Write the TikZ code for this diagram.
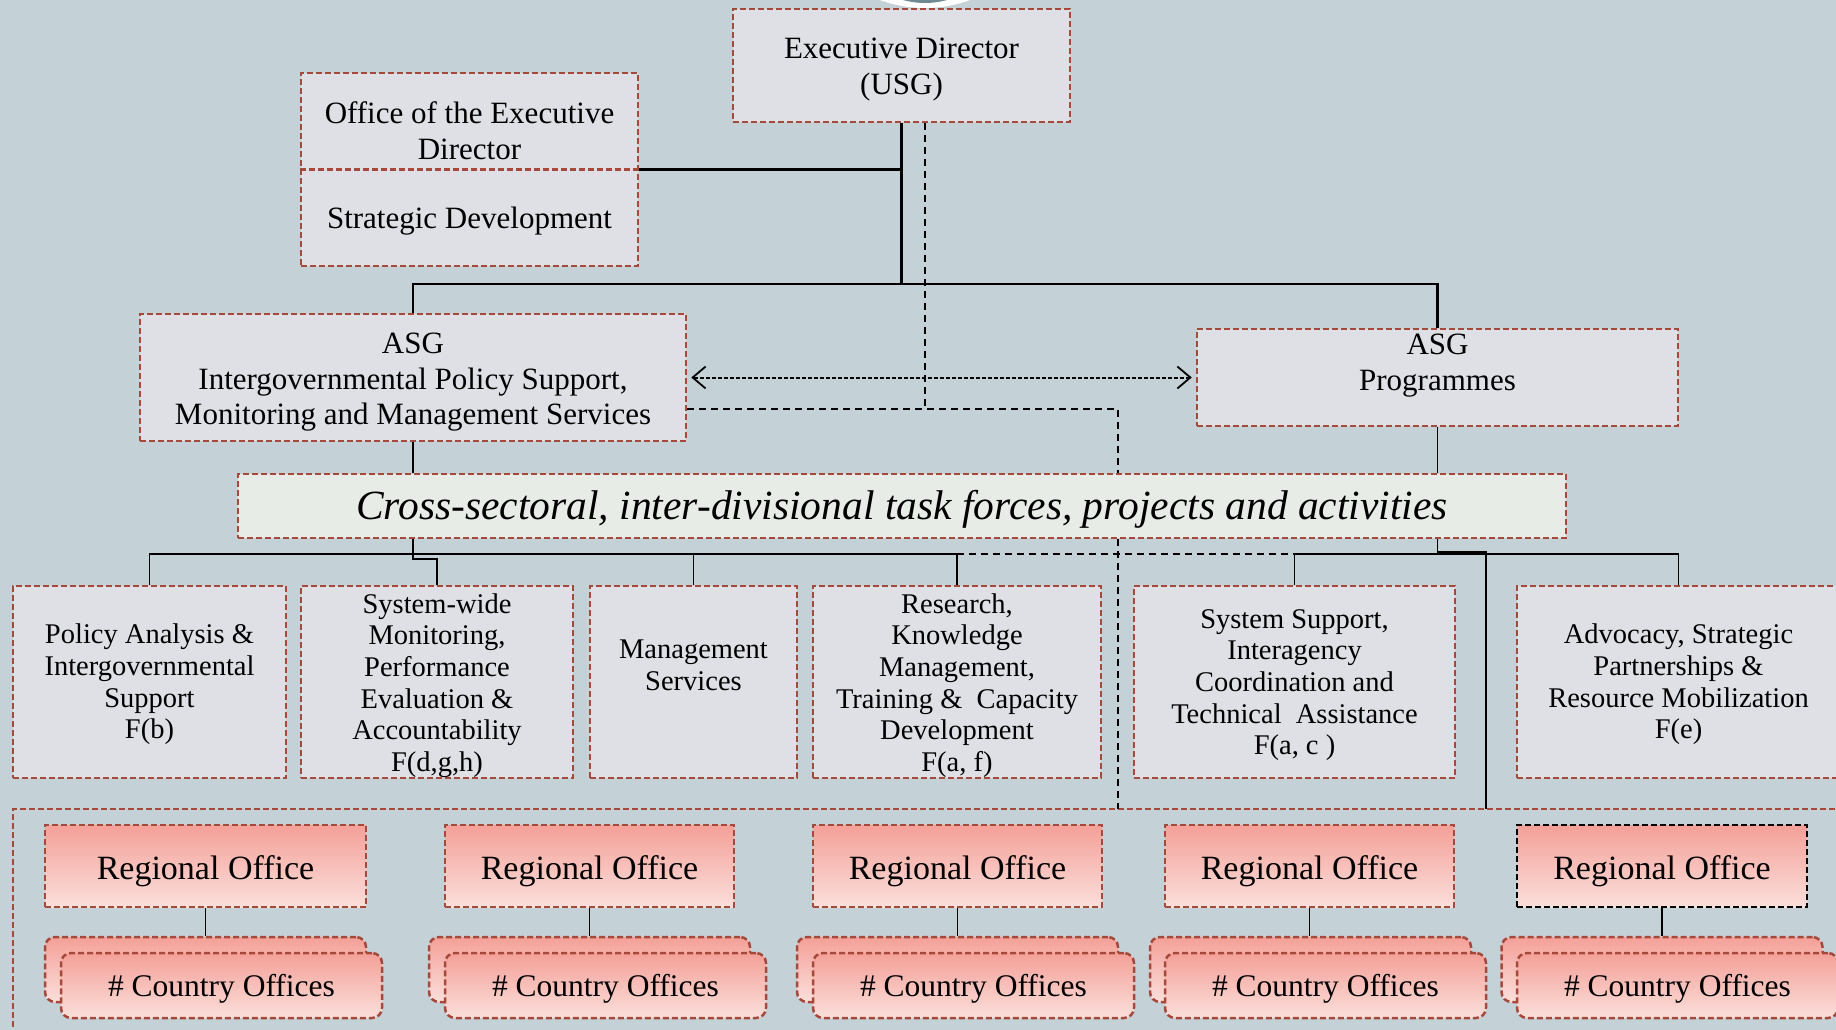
\documentclass[tikz,border=0pt]{standalone}
\usepackage{fontspec}
\setmainfont{Liberation Serif}
\usetikzlibrary{arrows.meta}
\definecolor{bg}{RGB}{196,210,216}
\definecolor{boxfill}{RGB}{223,224,229}
\definecolor{brd}{RGB}{166,72,58}
\definecolor{crossfill}{RGB}{231,236,230}
\definecolor{rotop}{RGB}{244,160,152}
\definecolor{robot}{RGB}{251,223,219}
\definecolor{logoteal}{RGB}{112,140,146}
\newcommand{\fTop}{\fontsize{31}{35.5}\selectfont}
\newcommand{\fRow}{\fontsize{28.5}{31.7}\selectfont}
\newcommand{\fRO}{\fontsize{34}{40}\selectfont}
\newcommand{\fCO}{\fontsize{31.5}{36}\selectfont}
\newcommand{\fCross}{\fontsize{41.5}{48}\selectfont\itshape}
\tikzset{
  borderdash/.style={draw=brd, line width=2.5pt, dash pattern=on 6pt off 3pt},
  orgbox/.style={borderdash, fill=boxfill, inner sep=0pt},
  crossbox/.style={borderdash, fill=crossfill, inner sep=0pt},
  robox/.style={borderdash, top color=rotop, bottom color=robot, inner sep=0pt},
  cobox/.style={robox, rounded corners=10pt},
  txt/.style={inner sep=0pt, align=center},
  conn/.style={line width=1.8pt, black},
  topconn/.style={line width=2.3pt, black},
  dconn/.style={line width=1.6pt, black, dash pattern=on 7pt off 5pt},
  dotarrow/.style={line width=2pt, black, dash pattern=on 4pt off 2pt,
     {Straight Barb[length=13pt,width=22pt,line width=1.8pt]}-{Straight Barb[length=13pt,width=22pt,line width=1.8pt]}}
}
\begin{document}
\begin{tikzpicture}[x=1pt,y=-1pt]
\useasboundingbox (0,0) rectangle (1836,1030);
\clip (0,0) rectangle (1836,1030);
\fill[bg] (0,0) rectangle (1836,1030);
% logo fragment
\fill[white] (925,-122.6) circle (130.6pt);
\fill[logoteal] (925,-79) circle (82pt);

% top level
\node[orgbox, minimum width=337pt, minimum height=113pt] (ed) at (901.5,65.5) {};
\node[txt, font=\fTop] (edt) at (901.5,69.5) {Executive Director\\(USG)};
\node[orgbox, minimum width=337pt, minimum height=193pt] (oed) at (469.5,169.5) {};
\draw[borderdash] (oed.west) -- (oed.east);
\node[txt, font=\fTop] (oedt) at (469.5,130.5) {Office of the Executive\\Director};
\node[txt, font=\fTop] (sdt) at (469.5,221.3) {Strategic Development};

\node[orgbox, minimum width=546pt, minimum height=127pt] (asgl) at (413,377.5) {};
\node[txt, font=\fTop] (asglt) at (413,382.5) {ASG\\Intergovernmental Policy Support,\\Monitoring and Management Services};
\node[orgbox, minimum width=481pt, minimum height=97pt] (asgr) at (1437.5,377.5) {};
\node[txt, font=\fTop] (asgrt) at (1437.5,365.5) {ASG\\Programmes};

\node[crossbox, minimum width=1328pt, minimum height=64pt] (cross) at (902,506) {};
\node[txt, font=\fCross] (crosst) at (902,509.5) {Cross-sectoral, inter-divisional task forces, projects and activities};

% divisions
\node[orgbox, minimum width=273pt, minimum height=192pt] (pa) at (149.5,682) {};
\node[txt, font=\fRow] (pat) at (149.5,684.3) {Policy Analysis \&\\Intergovernmental\\Support\\F(b)};
\node[orgbox, minimum width=272pt, minimum height=192pt] (sw) at (437,682) {};
\node[txt, font=\fRow] (swt) at (437,685.5) {System-wide\\Monitoring,\\Performance\\Evaluation \&\\Accountability\\F(d,g,h)};
\node[orgbox, minimum width=207pt, minimum height=192pt] (ms) at (693.5,682) {};
\node[txt, font=\fRow] (mst) at (693.5,665) {Management\\Services};
\node[orgbox, minimum width=288pt, minimum height=192pt] (rk) at (957,682) {};
\node[txt, font=\fRow] (rkt) at (957,685.5) {Research,\\Knowledge\\Management,\\Training \&~ Capacity\\Development\\F(a, f)};
\node[orgbox, minimum width=321pt, minimum height=192pt] (ss) at (1294.5,682) {};
\node[txt, font=\fRow] (sst) at (1294.5,685) {System Support,\\Interagency\\Coordination and\\Technical~ Assistance\\F(a, c )};
\node[orgbox, minimum width=323pt, minimum height=192pt] (adv) at (1678.5,682) {};
\node[txt, font=\fRow] (advt) at (1678.5,684.3) {Advocacy, Strategic\\Partnerships \&\\Resource Mobilization\\F(e)};

% regional container
\draw[borderdash] (13,1045) -- (13,809) -- (1850,809);
\coordinate (cont) at (0,809);

% regional offices
\node[robox, minimum width=321pt, minimum height=82pt] (ro1) at (205.5,866) {};
\node[robox, minimum width=289pt, minimum height=82pt] (ro2) at (589.5,866) {};
\node[robox, minimum width=289pt, minimum height=82pt] (ro3) at (957.5,866) {};
\node[robox, minimum width=289pt, minimum height=82pt] (ro4) at (1309.5,866) {};
\node[robox, draw=black, minimum width=290pt, minimum height=82pt] (ro5) at (1662,866) {};
\foreach \n in {1,...,5}{
  \node[txt, font=\fRO] (ro\n t) at ([yshift=-4.7pt]ro\n.center) {Regional Office};
}

% country offices (back + front)
\node[cobox, minimum width=321pt, minimum height=65pt] (cob1) at (205.5,969.5) {};
\node[cobox, minimum width=321pt, minimum height=65pt] (cof1) at (221.5,985.5) {};
\node[cobox, minimum width=321pt, minimum height=65pt] (cob2) at (589.5,969.5) {};
\node[cobox, minimum width=321pt, minimum height=65pt] (cof2) at (605.5,985.5) {};
\node[cobox, minimum width=321pt, minimum height=65pt] (cob3) at (957.5,969.5) {};
\node[cobox, minimum width=321pt, minimum height=65pt] (cof3) at (973.5,985.5) {};
\node[cobox, minimum width=321pt, minimum height=65pt] (cob4) at (1310.5,969.5) {};
\node[cobox, minimum width=321pt, minimum height=65pt] (cof4) at (1325.5,985.5) {};
\node[cobox, minimum width=321pt, minimum height=65pt] (cob5) at (1662,969.5) {};
\node[cobox, minimum width=321pt, minimum height=65pt] (cof5) at (1677.5,985.5) {};
\foreach \n in {1,...,5}{
  \node[txt, font=\fCO] (cof\n t) at ([yshift=-3.5pt]cof\n.center) {\# Country Offices};
}

% connectors top
\coordinate (edj) at (901.5,284);
\draw[topconn] (ed.south) -- (edj);
\draw[topconn] (edj) -| (asgl.north);
\draw[topconn] (edj) -| (asgr.north);
\draw[topconn] (oed.east) -- (oed.east -| edj);

% dashed links
\coordinate (dj) at (1118,409);
\draw[dconn] ([xshift=23.5pt]ed.south) -- ([xshift=23.5pt]ed.south |- dj);
\draw[dconn] (asgl.east |- dj) -- (dj) -- (dj |- cross.north);
\draw[dconn] (dj |- cross.south) -- (dj |- cont);

% arrow between ASGs
\draw[dotarrow] ([xshift=4pt]asgl.east) -- ([xshift=-4pt]asgr.west);

% to cross box
\draw[conn] (asgl.south) -- (asgl.south |- cross.north);
\draw[conn] (asgr.south) -- (asgr.south |- cross.north);

% below cross box
\coordinate (hb) at (0,554);
\draw[conn] (pa.north) |- (rk.north |- hb);
\draw[conn] (ms.north) -- (ms.north |- hb);
\draw[conn] (rk.north) -- (rk.north |- hb);
\draw[dconn] (rk.north |- hb) -- (ss.north |- hb);
\draw[conn] (ss.north) |- (adv.north |- hb) -- (adv.north);
\draw[conn] (cross.south -| asgl.south) -- ++(0,20) -| (sw.north);
\coordinate (rj) at (1486,809);
\draw[conn] (cross.south -| asgr.south) -- ++(0,13) -| (rj);

% regional to country
\draw[conn] (ro1.south) -- (ro1.south |- cob1.north);
\draw[conn] (ro2.south) -- (ro2.south |- cob2.north);
\draw[conn] (ro3.south) -- (ro3.south |- cob3.north);
\draw[conn] (ro4.south) -- (ro4.south |- cob4.north);
\draw[conn] (ro5.south) -- (ro5.south |- cob5.north);
\end{tikzpicture}
\end{document}
